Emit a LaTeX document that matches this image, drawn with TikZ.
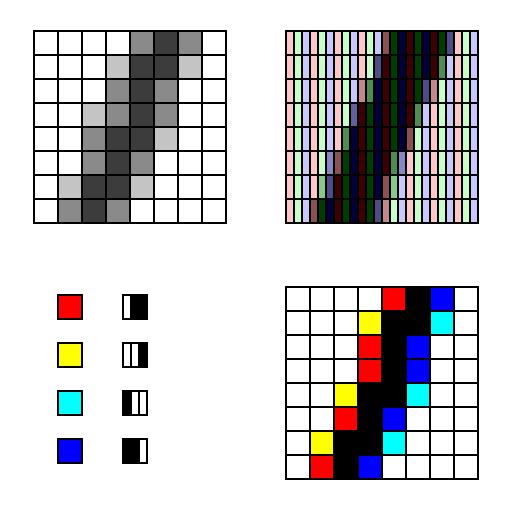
\documentclass[tikz,border=0pt]{standalone}
\definecolor{g0}{HTML}{FFFFFF}
\definecolor{g1}{HTML}{C4C4C4}
\definecolor{g2}{HTML}{8A8A8A}
\definecolor{g3}{HTML}{3C3C3C}
\definecolor{sp00}{HTML}{FFC8C8}
\definecolor{sp10}{HTML}{C8FFC8}
\definecolor{sp20}{HTML}{C8C8FF}
\definecolor{sp01}{HTML}{C48888}
\definecolor{sp11}{HTML}{88C888}
\definecolor{sp21}{HTML}{8888C8}
\definecolor{sp02}{HTML}{8C5050}
\definecolor{sp12}{HTML}{508C50}
\definecolor{sp22}{HTML}{4C4C88}
\definecolor{sp03}{HTML}{3C0000}
\definecolor{sp13}{HTML}{003C00}
\definecolor{sp23}{HTML}{00003C}
\definecolor{sp24}{HTML}{6060A0}
\definecolor{b0}{HTML}{FFFFFF}
\definecolor{b1}{HTML}{FF0000}
\definecolor{b2}{HTML}{FFFF00}
\definecolor{b3}{HTML}{00FFFF}
\definecolor{b4}{HTML}{0000FF}
\definecolor{b5}{HTML}{000000}
\tikzset{cellbox/.style={draw=black, line width=1.2pt}}
\begin{document}
\begin{tikzpicture}[x=1pt,y=-1pt]
\useasboundingbox (0,0) rectangle (512,512);
% top-left grayscale grid
\foreach \row [count=\r from 0] in {
 {0,0,0,0,2,3,2,0},
 {0,0,0,1,3,3,1,0},
 {0,0,0,2,3,2,0,0},
 {0,0,1,2,3,2,0,0},
 {0,0,2,3,3,1,0,0},
 {0,0,2,3,2,0,0,0},
 {0,1,3,3,1,0,0,0},
 {0,2,3,2,0,0,0,0}}{
  \foreach \v [count=\c from 0] in \row {
    \filldraw[cellbox, fill=g\v] (34+24*\c, 31+24*\r) rectangle ++(24,24);
  }
}
% top-right subpixel grid
\foreach \row [count=\r from 0] in {
 {0,0,0,0,0,0,0,0,0,0,0,0,2,3,3,3,3,3,3,3,2,0,0,0},
 {0,0,0,0,0,0,0,0,0,0,0,2,3,3,3,3,3,3,3,2,0,0,0,0},
 {0,0,0,0,0,0,0,0,0,1,2,3,3,3,3,3,3,2,1,0,0,0,0,0},
 {0,0,0,0,0,0,0,0,4,3,3,3,3,3,3,3,2,0,0,0,0,0,0,0},
 {0,0,0,0,0,0,0,2,3,3,3,3,3,3,3,2,0,0,0,0,0,0,0,0},
 {0,0,0,0,0,1,2,3,3,3,3,3,3,2,1,0,0,0,0,0,0,0,0,0},
 {0,0,0,0,1,2,3,3,3,3,3,3,2,1,0,0,0,0,0,0,0,0,0,0},
 {0,0,0,2,3,3,3,3,3,3,3,2,1,0,0,0,0,0,0,0,0,0,0,0}}{
  \foreach \v [count=\c from 0] in \row {
    \pgfmathtruncatemacro\ch{mod(\c,3)}
    \filldraw[cellbox, fill=sp\ch\v] (286+8*\c, 31+24*\r) rectangle ++(8,24);
  }
}
% bottom-right colour grid
\foreach \row [count=\r from 0] in {
 {0,0,0,0,1,5,4,0},
 {0,0,0,2,5,5,3,0},
 {0,0,0,1,5,4,0,0},
 {0,0,0,1,5,4,0,0},
 {0,0,2,5,5,3,0,0},
 {0,0,1,5,4,0,0,0},
 {0,2,5,5,3,0,0,0},
 {0,1,5,4,0,0,0,0}}{
  \foreach \v [count=\c from 0] in \row {
    \filldraw[cellbox, fill=b\v] (286+24*\c, 287+24*\r) rectangle ++(24,24);
  }
}
% legend
\foreach \col/\a/\b/\cc [count=\k from 0] in {b1/white/black/black, b2/white/white/black, b3/black/white/white, b4/black/black/white}{
  \filldraw[cellbox, fill=\col] (58, 295+48*\k) rectangle ++(24,24);
  \filldraw[cellbox, fill=\a] (123, 295+48*\k) rectangle ++(8,24);
  \filldraw[cellbox, fill=\b] (131, 295+48*\k) rectangle ++(8,24);
  \filldraw[cellbox, fill=\cc] (139, 295+48*\k) rectangle ++(8,24);
  \draw[cellbox] (123, 295+48*\k) rectangle ++(24,24);
}
\end{tikzpicture}
\end{document}
